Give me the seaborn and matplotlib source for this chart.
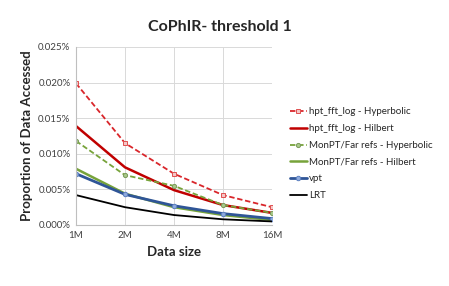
import pandas as pd
import matplotlib.pyplot as plt
import seaborn as sns
from matplotlib.ticker import FuncFormatter

# data (percent of data accessed)
sizes = ['1M', '2M', '4M', '8M', '16M']
hpt_hyperbolic = [0.0199, 0.0115, 0.0072, 0.0042, 0.0025]
hpt_hilbert = [0.0139, 0.0081, 0.0049, 0.0028, 0.0017]
monpt_hyperbolic = [0.0118, 0.0070, 0.0055, 0.0028, 0.0017]
monpt_hilbert = [0.0079, 0.0044, 0.0025, 0.0014, 0.0007]
vpt = [0.0072, 0.0043, 0.0027, 0.0016, 0.0009]
lrt = [0.0042, 0.0025, 0.0014, 0.0008, 0.0005]

series = {
    'hpt_fft_log - Hyperbolic': hpt_hyperbolic,
    'hpt_fft_log - Hilbert': hpt_hilbert,
    'MonPT/Far refs - Hyperbolic': monpt_hyperbolic,
    'MonPT/Far refs - Hilbert': monpt_hilbert,
    'vpt': vpt,
    'LRT': lrt,
}
rows = []
for name, vals in series.items():
    for i, v in enumerate(vals):
        rows.append({'pos': i, 'size': sizes[i], 'value': v, 'series': name})
df = pd.DataFrame(rows)

styles = {
    'hpt_fft_log - Hyperbolic': dict(color='#D9262B', ls=(0, (3, 1.5)), lw=1.3, marker='s', ms=3, mfc='#F4C6C6', mec='#E05050'),
    'hpt_fft_log - Hilbert': dict(color='#C00000', ls='-', lw=1.8, marker=None),
    'MonPT/Far refs - Hyperbolic': dict(color='#77A33A', ls=(0, (3, 1.5)), lw=1.3, marker='o', ms=3, mfc='#A9C98A', mec='#7A9A5A'),
    'MonPT/Far refs - Hilbert': dict(color='#77A33A', ls='-', lw=1.8, marker=None),
    'vpt': dict(color='#2F5597', ls='-', lw=2.0, marker='o', ms=3.2, mfc='#8FAADC', mec='#5B7FC0'),
    'LRT': dict(color='#000000', ls='-', lw=1.3, marker=None),
}

sns.set_style('white')
plt.rcParams['font.family'] = ['Lato', 'DejaVu Sans']

fig = plt.figure(figsize=(4.49, 2.86), dpi=100)
ax = fig.add_axes([76 / 449, 1 - 225 / 286, 196 / 449, 178 / 286])

for name in series:
    st = styles[name]
    sub = df[df['series'] == name]
    sns.lineplot(data=sub, x='pos', y='value', ax=ax, label=name,
                 color=st['color'], linestyle=st['ls'], linewidth=st['lw'],
                 marker=st['marker'], markersize=st.get('ms', 0),
                 markerfacecolor=st.get('mfc'), markeredgecolor=st.get('mec'),
                 markeredgewidth=0.7)

ax.set_xlim(0, len(sizes) - 1)
ax.set_ylim(0, 0.025)
ax.set_xticks(range(len(sizes)))
ax.set_xticklabels(sizes)
ax.set_yticks([0, 0.005, 0.01, 0.015, 0.02, 0.025])
ax.yaxis.set_major_formatter(FuncFormatter(lambda v, p: f'{v:.3f}%'))
ax.tick_params(axis='both', labelsize=7, colors='#404040', length=0, pad=4)
ax.grid(True, color='#D9D9D9', linewidth=0.7)
for s in ['top', 'right']:
    ax.spines[s].set_visible(False)
ax.spines['left'].set_color('#BFBFBF')
ax.spines['bottom'].set_color('#BFBFBF')

ax.set_xlabel('Data size', fontsize=9.5, fontweight='bold', color='#262626', labelpad=5)
ax.set_ylabel('Proportion of Data Accessed', fontsize=9.5, fontweight='bold', color='#262626', labelpad=4)
fig.text(0.49, 0.905, 'CoPhIR- threshold 1', fontsize=11.5, fontweight='bold',
         color='#262626', ha='center', va='center')

ax.legend(loc='center left', bbox_to_anchor=(1.07, 0.40), frameon=False,
          fontsize=7, handlelength=1.8, handletextpad=0.2, labelspacing=0.8,
          borderaxespad=0)

fig.savefig('out.png', dpi=100)
